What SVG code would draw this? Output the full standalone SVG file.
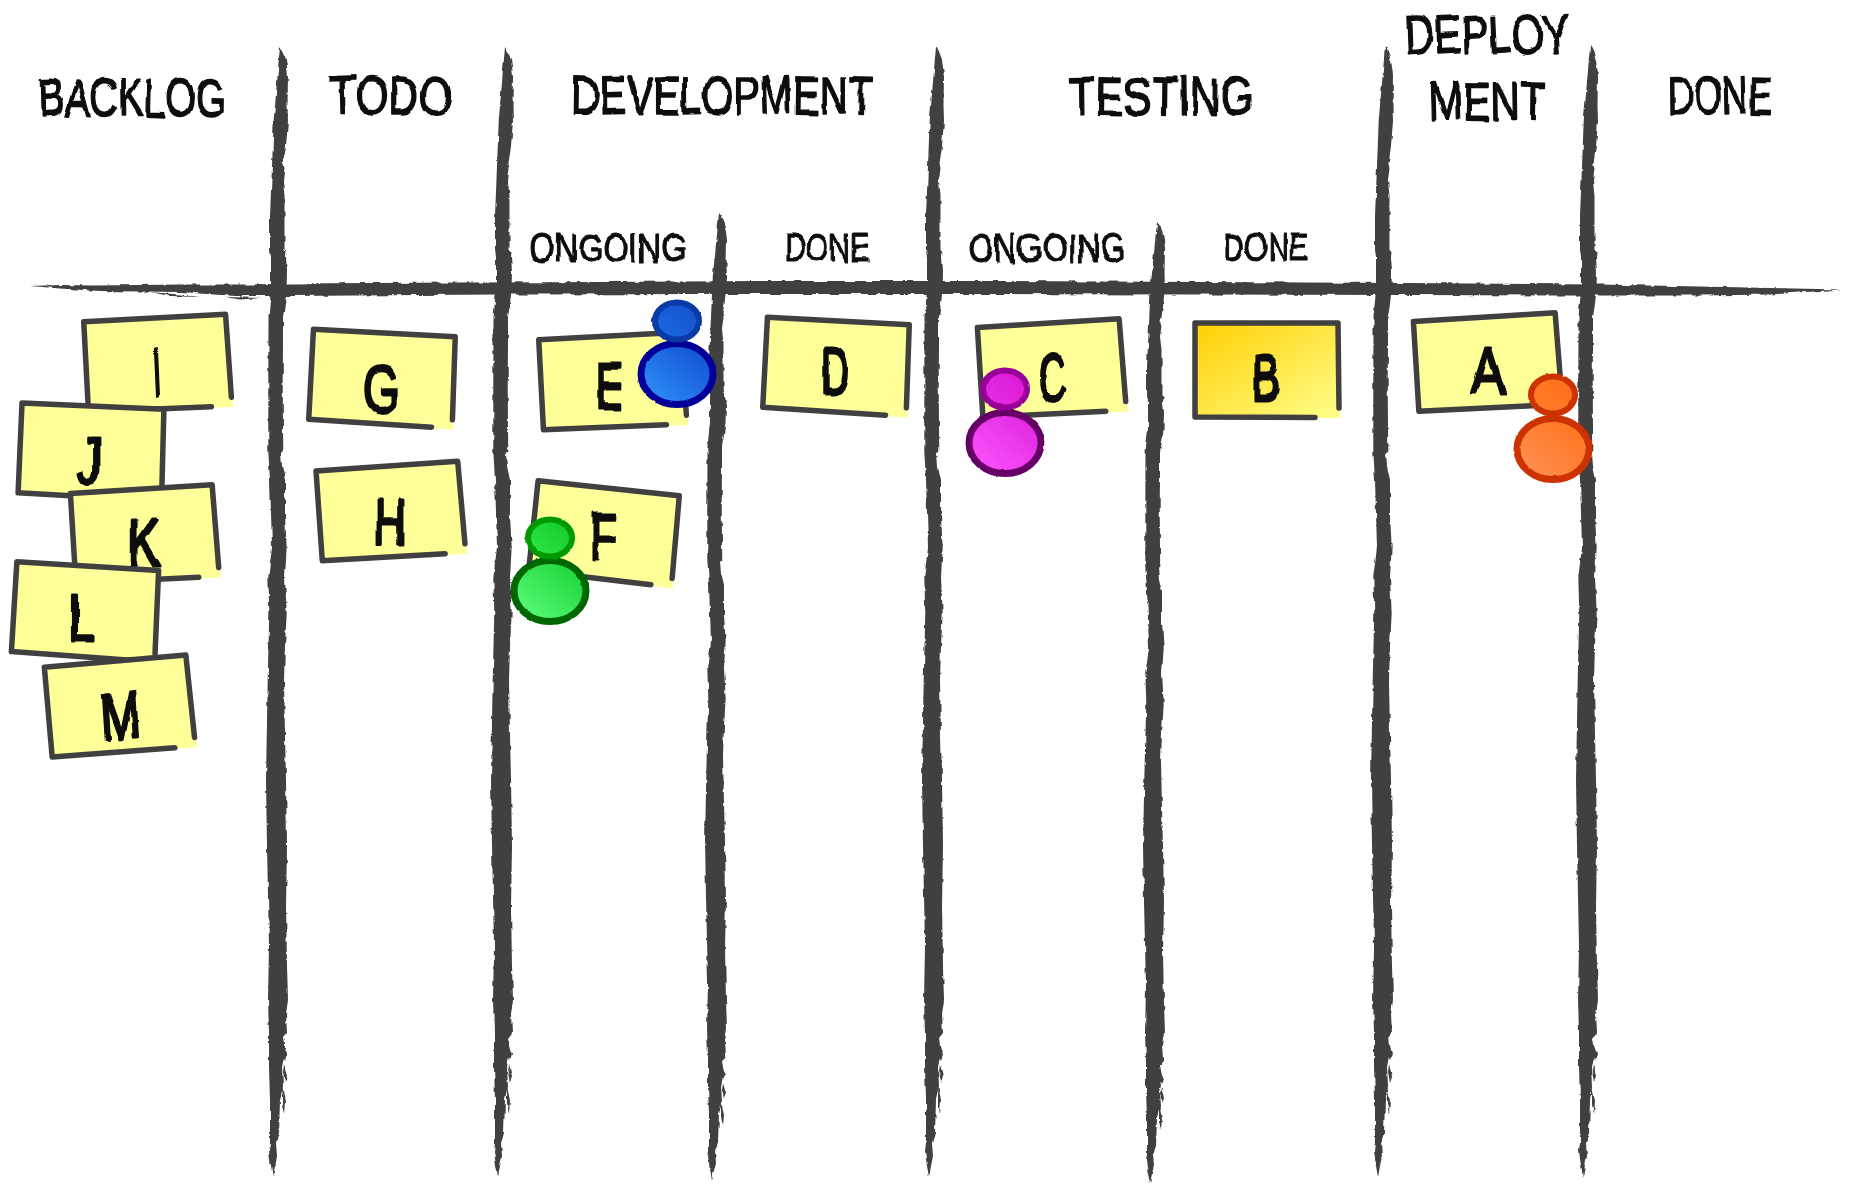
<svg xmlns="http://www.w3.org/2000/svg" xmlns:xlink="http://www.w3.org/1999/xlink" width="1851" height="1188" viewBox="0 0 1851 1188">
<style>
.ink{fill:#404040}
.head{stroke-width:6;stroke-linejoin:round}
.body{stroke-width:7;stroke-linejoin:round}
.t{font-family:"Liberation Sans",sans-serif;fill:#0d0d0d;stroke:#0d0d0d;stroke-width:1.6;text-anchor:middle;stroke-linejoin:round}
.title{font-size:54px}
.sub{font-size:40px;stroke-width:1.2}
.let{font-size:66px;stroke-width:3.2}
.nf{fill:#ffff99}
.ns{fill:none;stroke:#404040;stroke-width:5.5;stroke-linejoin:round;stroke-linecap:round}
</style>
<defs>
<filter id="rough" filterUnits="userSpaceOnUse" x="0" y="0" width="1851" height="1188" color-interpolation-filters="sRGB"><feTurbulence type="fractalNoise" baseFrequency="0.09" numOctaves="3" seed="4"/><feDisplacementMap in="SourceGraphic" scale="4" xChannelSelector="R" yChannelSelector="G"/></filter>
<filter id="soft" filterUnits="userSpaceOnUse" x="0" y="0" width="1851" height="1188" color-interpolation-filters="sRGB"><feTurbulence type="fractalNoise" baseFrequency="0.12" numOctaves="3" seed="7"/><feDisplacementMap in="SourceGraphic" scale="2" xChannelSelector="R" yChannelSelector="G"/></filter>
<filter id="wob" filterUnits="userSpaceOnUse" x="0" y="0" width="1851" height="1188" color-interpolation-filters="sRGB"><feTurbulence type="fractalNoise" baseFrequency="0.035" numOctaves="2" seed="9"/><feDisplacementMap in="SourceGraphic" scale="6" xChannelSelector="R" yChannelSelector="G"/></filter>
<g id="vline"><path class="ink" d="M0,0C4,6 7,14 8,31L7.5,60 8,75 6,100 3.5,118 4.5,122 3,135 4.5,150 4.5,170 4.5,204 6.5,206 6,211 7,225 6.5,244 5,258 3,271 3,300 2.7,334 3,384 3.3,406 1,407 2,420 5,434 5,470 6.7,501 5,531 6.7,567 5,600 4,634 5,690 6,734 7,800 6,860 7,920 8,954 6,968 7,987 3,992 5,1005 2,1021 3,1040 0,1054-1,1087-4,1097-3,1110-5,1120-7,1131-9,1120-11,1105-10,1097-10,1087-10,1054-11,1021-11,987-12,954-11,900-13,800-14,734-12.3,634-10.7,567-11.7,531-8,501-10,434-11.7,406-11.7,334-11.5,271-9,244-9,211-10,204-10,170-8,120-6.3,75Z"/><path class="ink" d="M3,1000L7,1008 5,1014 3,1010ZM4,1018L7,1030 5,1036 3,1026ZM2,1040L5,1055 4,1068 2,1058Z"/></g>
<g id="note"><path class="nf" d="M-71,-45H71L74,48 -71,45Z"/><path class="ns" d="M52,46.5L-71,45V-45H71L72.5,38"/></g>
<linearGradient id="goldG" x1="0" y1="0" x2="1" y2="1"><stop offset="0" stop-color="#ffcf00"/><stop offset="1" stop-color="#ffff8c"/></linearGradient>
<linearGradient id="blueH" x1="1" y1="0" x2="0" y2="1"><stop offset="0" stop-color="#1150c8"/><stop offset="1" stop-color="#1e6ae6"/></linearGradient>
<linearGradient id="blueB" x1="1" y1="0" x2="0" y2="1"><stop offset="0" stop-color="#1048d0"/><stop offset="1" stop-color="#3096fa"/></linearGradient>
<linearGradient id="magH" x1="1" y1="0" x2="0" y2="1"><stop offset="0" stop-color="#d818d0"/><stop offset="1" stop-color="#ea30e8"/></linearGradient>
<linearGradient id="magB" x1="1" y1="0" x2="0" y2="1"><stop offset="0" stop-color="#dc22dc"/><stop offset="1" stop-color="#ff58ff"/></linearGradient>
<linearGradient id="grnH" x1="1" y1="0" x2="0" y2="1"><stop offset="0" stop-color="#10c828"/><stop offset="1" stop-color="#30e848"/></linearGradient>
<linearGradient id="grnB" x1="1" y1="0" x2="0" y2="1"><stop offset="0" stop-color="#14d030"/><stop offset="1" stop-color="#60ff80"/></linearGradient>
<linearGradient id="orgH" x1="1" y1="0" x2="0" y2="1"><stop offset="0" stop-color="#ff6c14"/><stop offset="1" stop-color="#ff8030"/></linearGradient>
<linearGradient id="orgB" x1="1" y1="0" x2="0" y2="1"><stop offset="0" stop-color="#ff7018"/><stop offset="1" stop-color="#ff9458"/></linearGradient>
</defs>
<rect width="1851" height="1188" fill="#fff"/>
<g id="grid" filter="url(#rough)">
<use xlink:href="#vline" href="#vline" transform="translate(280,46)"/>
<use xlink:href="#vline" href="#vline" transform="translate(505,46)"/>
<use xlink:href="#vline" href="#vline" transform="translate(936,46)"/>
<use xlink:href="#vline" href="#vline" transform="translate(1385,46)"/>
<use xlink:href="#vline" href="#vline" transform="translate(1590,46)"/>
<use xlink:href="#vline" href="#vline" transform="translate(719,214) scale(1,.854)"/>
<use xlink:href="#vline" href="#vline" transform="translate(1157,222) scale(1,.85)"/>
<path class="ink" d="M30,286L60,285 95,285.5 180,284.5 250,284.5 290,283.5 460,282.5 600,282 760,281 1000,281 1200,282 1410,283 1600,284.5 1700,286.5 1842,289.5 1770,294.5 1700,295.5 1600,295.5 1410,295 1200,294.5 1000,294 700,294 500,294.5 420,295 290,296 235,296 180,292 100,291 60,288.5Z"/>
<path class="ink" d="M150,292L185,295 200,297 170,296ZM225,297L262,298 240,299.5Z"/>
</g>
<g id="titles" filter="url(#wob)">
<text class="t title" x="132" y="116" textLength="186" lengthAdjust="spacingAndGlyphs" rotate="-2 1 0 -1 2 0 1">BACKLOG</text>
<text class="t title" x="391" y="114" textLength="122" lengthAdjust="spacingAndGlyphs" rotate="-2 1 0 2">TODO</text>
<text class="t title" x="722" y="114" textLength="302" lengthAdjust="spacingAndGlyphs" rotate="1 -1 2 0 -1 1 0 -2 1 0 1">DEVELOPMENT</text>
<text class="t title" x="1161" y="115" textLength="184" lengthAdjust="spacingAndGlyphs" rotate="-1 1 0 1 -1 1 0">TESTING</text>
<text class="t title" x="1488" y="54" textLength="166" lengthAdjust="spacingAndGlyphs" rotate="-3 -2 -2 -3 -1 -4">DEPLOY</text>
<text class="t title" x="1487" y="120" textLength="116" lengthAdjust="spacingAndGlyphs" rotate="-2 1 -1 1">MENT</text>
<text class="t title" x="1720" y="114" textLength="104" lengthAdjust="spacingAndGlyphs" rotate="-1 0 -2 1">DONE</text>
<text class="t sub" x="608" y="262" textLength="157" lengthAdjust="spacingAndGlyphs">ONGOING</text>
<text class="t sub" x="827" y="261" textLength="85" lengthAdjust="spacingAndGlyphs">DONE</text>
<text class="t sub" x="1047" y="262" textLength="157" lengthAdjust="spacingAndGlyphs">ONGOING</text>
<text class="t sub" x="1266" y="261" textLength="85" lengthAdjust="spacingAndGlyphs">DONE</text>
</g>
<g id="note-I"><use xlink:href="#note" href="#note" transform="translate(157,363) rotate(-3)"/><text class="t let" x="158" y="396" filter="url(#wob)" rotate="-6" textLength="8" lengthAdjust="spacingAndGlyphs">I</text></g>
<g id="note-J"><use xlink:href="#note" href="#note" transform="translate(91,451) rotate(2.5)"/><text class="t let" x="90" y="484" filter="url(#wob)" textLength="26" lengthAdjust="spacingAndGlyphs">J</text></g>
<g id="note-K"><use xlink:href="#note" href="#note" transform="translate(144,534) rotate(-3.5)"/><text class="t let" x="144" y="565" filter="url(#wob)" textLength="32" lengthAdjust="spacingAndGlyphs">K</text></g>
<g id="note-L"><use xlink:href="#note" href="#note" transform="translate(85,611) rotate(3.5)"/><text class="t let" x="82" y="642" filter="url(#wob)" textLength="28" lengthAdjust="spacingAndGlyphs">L</text></g>
<g id="note-M"><use xlink:href="#note" href="#note" transform="translate(119,706) rotate(-5)"/><text class="t let" x="122" y="741" filter="url(#wob)" rotate="-5" textLength="40" lengthAdjust="spacingAndGlyphs">M</text></g>
<g id="note-G"><use xlink:href="#note" href="#note" transform="translate(382,378) rotate(3)"/><text class="t let" x="381" y="412" filter="url(#wob)" textLength="36" lengthAdjust="spacingAndGlyphs">G</text></g>
<g id="note-H"><use xlink:href="#note" href="#note" transform="translate(390,511) rotate(-4)"/><text class="t let" x="390" y="545" filter="url(#wob)" textLength="32" lengthAdjust="spacingAndGlyphs">H</text></g>
<g id="note-E"><use xlink:href="#note" href="#note" transform="translate(612,381) rotate(-3)"/><text class="t let" x="609" y="409" filter="url(#wob)" textLength="26" lengthAdjust="spacingAndGlyphs">E</text></g>
<g id="note-F"><use xlink:href="#note" href="#note" transform="translate(604,533) rotate(6)"/><text class="t let" x="603" y="560" filter="url(#wob)" textLength="26" lengthAdjust="spacingAndGlyphs">F</text></g>
<g id="note-D"><use xlink:href="#note" href="#note" transform="translate(836,366) rotate(3)"/><text class="t let" x="835" y="394" filter="url(#wob)" textLength="28" lengthAdjust="spacingAndGlyphs">D</text></g>
<g id="note-C"><use xlink:href="#note" href="#note" transform="translate(1051,368) rotate(-3.5)"/><text class="t let" x="1052" y="401" filter="url(#wob)" textLength="28" lengthAdjust="spacingAndGlyphs">C</text></g>
<g id="note-B"><path d="M1202,323H1345L1347,418 1202,417Z" fill="url(#goldG)" transform="translate(-7,0)"/><path class="ns" d="M1315,417.5L1195,417V323H1338L1339,408"/><text class="t let" x="1266" y="401" filter="url(#wob)" textLength="28" lengthAdjust="spacingAndGlyphs">B</text></g>
<g id="note-A"><use xlink:href="#note" href="#note" transform="translate(1487,362) rotate(-3.5)"/><text class="t let" x="1488" y="394" filter="url(#wob)" textLength="34" lengthAdjust="spacingAndGlyphs">A</text></g>
<g id="person-blue" filter="url(#soft)"><ellipse class="body" cx="677" cy="374" rx="36" ry="30.5" fill="url(#blueB)" stroke="#000099"/><path d="M705,352L716,366 715,378 711,366Z" fill="#000099"/><ellipse class="head" cx="677" cy="321" rx="22" ry="18.5" fill="url(#blueH)" stroke="#0a3aa8"/></g>
<g id="person-magenta" filter="url(#soft)"><ellipse class="body" cx="1005" cy="443" rx="36" ry="30.5" fill="url(#magB)" stroke="#660066"/><path d="M1033,421L1044,435 1043,447 1039,435Z" fill="#660066"/><ellipse class="head" cx="1005" cy="389" rx="22" ry="18.5" fill="url(#magH)" stroke="#990099"/></g>
<g id="person-green" filter="url(#soft)"><ellipse class="body" cx="550" cy="591" rx="36" ry="30.5" fill="url(#grnB)" stroke="#006600"/><path d="M578,569L589,583 588,595 584,583Z" fill="#006600"/><ellipse class="head" cx="550" cy="538" rx="22" ry="18.5" fill="url(#grnH)" stroke="#009900"/></g>
<g id="person-orange" filter="url(#soft)"><ellipse class="body" cx="1553" cy="449" rx="36" ry="30.5" fill="url(#orgB)" stroke="#cc3300"/><path d="M1581,427L1592,441 1591,453 1587,441Z" fill="#cc3300"/><ellipse class="head" cx="1553" cy="395" rx="22" ry="18.5" fill="url(#orgH)" stroke="#cc3300"/></g>
</svg>
